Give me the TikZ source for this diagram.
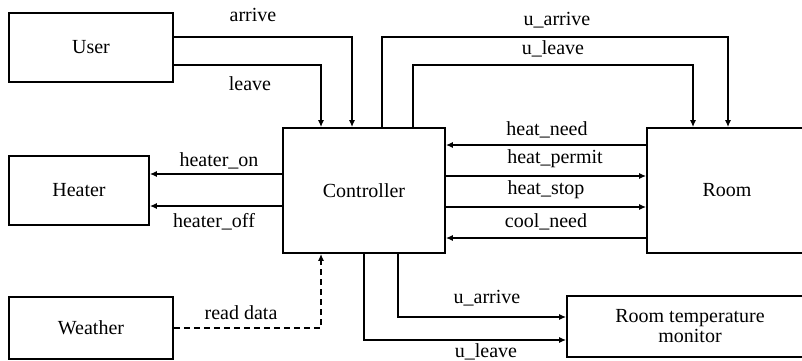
\documentclass[tikz,border=0pt]{standalone}
\usepackage{fontspec}
\setmainfont{Liberation Serif}
\usetikzlibrary{arrows.meta}
\begin{document}
\begin{tikzpicture}[x=1pt,y=1pt,
  box/.style={draw,line width=1.7pt,rectangle,inner sep=0pt,font=\fontsize{20}{20}\selectfont,align=center},
  conn/.style={line width=1.7pt},
  arr/.style={conn,-{Latex[length=7pt,width=6pt]}},
  lbl/.style={inner sep=0pt,font=\fontsize{20}{20}\selectfont}]
\clip (0,0) rectangle (802,360);
\fill[white] (0,0) rectangle (802,360);
% boxes
\node[box,minimum width=164pt,minimum height=69pt] (User) at (91,312.5) {User};
\node[box,minimum width=140pt,minimum height=69pt] (Heater) at (79,169.5) {Heater};
\node[box,minimum width=164pt,minimum height=62pt] (Weather) at (91,32) {Weather};
\node[box,minimum width=162pt,minimum height=125pt] (Ctrl) at (364,169.5) {Controller};
\node[box,minimum width=160pt,minimum height=125pt] (Room) at (727,169.5) {Room};
\node[box,minimum width=246pt,minimum height=61pt] (Mon) at (690,33.5) {Room temperature\\monitor};
% user -> controller
\draw[arr] (User.east |- 0,323) -| (Ctrl.north -| 352,0);
\draw[arr] (User.east |- 0,295) -| (Ctrl.north -| 321,0);
\node[lbl] (larrive) at (253,345) {arrive};
\node[lbl] (lleave) at (250,276) {leave};
% controller -> heater
\draw[arr] (Ctrl.west |- 0,186) -- (Heater.east |- 0,186);
\draw[arr] (Ctrl.west |- 0,154) -- (Heater.east |- 0,154);
\node[lbl] (lhon) at (219,199) {heater\_on};
\node[lbl] (lhoff) at (214,138) {heater\_off};
% weather -> controller
\draw[arr,dash pattern=on 6pt off 4pt] (Weather.east |- 0,32) -| (Ctrl.south -| 321,0);
\node[lbl] (lread) at (241,47) {read data};
% controller -> room top
\draw[arr] (Ctrl.north -| 382,0) |- (728,323) -- (Room.north -| 728,0);
\draw[arr] (Ctrl.north -| 413,0) |- (693,295) -- (Room.north -| 693,0);
\node[lbl] (lua) at (557,340) {u\_arrive};
\node[lbl] (lul) at (553,311) {u\_leave};
% controller <-> room
\draw[arr] (Room.west |- 0,215) -- (Ctrl.east |- 0,215);
\draw[arr] (Ctrl.east |- 0,184) -- (Room.west |- 0,184);
\draw[arr] (Ctrl.east |- 0,153) -- (Room.west |- 0,153);
\draw[arr] (Room.west |- 0,122) -- (Ctrl.east |- 0,122);
\node[lbl] (lhn) at (547,230) {heat\_need};
\node[lbl] (lhp) at (555,201) {heat\_permit};
\node[lbl] (lhs) at (546,170) {heat\_stop};
\node[lbl] (lcn) at (546,138) {cool\_need};
% controller -> monitor
\draw[arr] (Ctrl.south -| 398,0) |- (Mon.west |- 0,43);
\draw[arr] (Ctrl.south -| 364,0) |- (Mon.west |- 0,20);
\node[lbl] (lba) at (487,62) {u\_arrive};
\node[lbl] (lbl2) at (486,8.5) {u\_leave};
\end{tikzpicture}
\end{document}
